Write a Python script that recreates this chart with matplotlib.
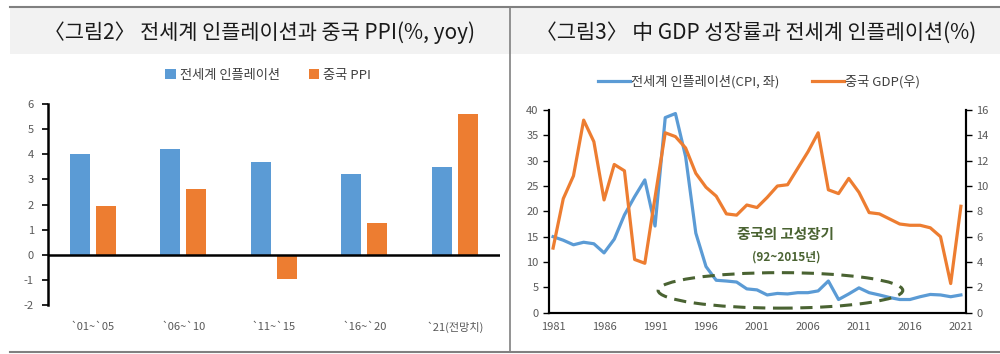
import numpy as np
import matplotlib
matplotlib.use('Agg')
import matplotlib.pyplot as plt
from matplotlib.patches import Rectangle, Ellipse
from matplotlib.lines import Line2D

plt.rcParams['font.family'] = ['Noto Sans CJK KR', 'DejaVu Sans']
plt.rcParams['axes.unicode_minus'] = False

# --- data: left chart (bars) ---
periods = ['`01~`05', '`06~`10', '`11~`15', '`16~`20', '`21(전망치)']
world_cpi_avg = [4.0, 4.2, 3.7, 3.2, 3.5]
china_ppi = [1.95, 2.6, -0.95, 1.25, 5.6]

# --- data: right chart (lines) ---
years = list(range(1981, 2022))
world_cpi = [15.0, 14.3, 13.4, 13.9, 13.6, 11.8, 14.5, 19.3, 22.9, 26.2,
             17.1, 38.5, 39.3, 30.8, 15.7, 9.1, 6.4, 6.25, 6.05, 4.7,
             4.5, 3.5, 3.8, 3.7, 3.95, 3.95, 4.3, 6.25, 2.6, 3.7,
             4.9, 3.95, 3.5, 3.0, 2.6, 2.6, 3.15, 3.6, 3.5, 3.15, 3.5]
china_gdp = [5.1, 9.0, 10.8, 15.2, 13.5, 8.9, 11.7, 11.2, 4.2, 3.9,
             9.1, 14.2, 13.9, 13.0, 11.0, 9.9, 9.2, 7.8, 7.7, 8.5,
             8.3, 9.1, 10.0, 10.1, 11.4, 12.7, 14.2, 9.7, 9.4, 10.6,
             9.5, 7.9, 7.8, 7.4, 7.0, 6.9, 6.9, 6.7, 6.0, 2.3, 8.4]
boom_start, boom_end = 1992, 2015

blue = '#5B9BD5'
orange = '#ED7D31'
green = '#4A6332'
tick_col = '#595959'

fig = plt.figure(figsize=(10, 3.54), dpi=100)

# frame decoration: title band, lines
fig.patches.append(Rectangle((0.01, 0.847), 0.99, 0.13, transform=fig.transFigure,
                             facecolor='#F2F2F2', edgecolor='none', zorder=0))
fig.add_artist(Line2D([0.01, 1.0], [0.979, 0.979], color='#808080', lw=1.5))
fig.add_artist(Line2D([0.01, 1.0], [0.006, 0.006], color='#808080', lw=1.5))
fig.add_artist(Line2D([0.51, 0.51], [0.006, 0.977], color='#808080', lw=1.2))

fig.text(0.259, 0.908, '〈그림2〉 전세계 인플레이션과 중국 PPI(%, yoy)',
         ha='center', va='center', fontsize=15, color='#1a1a1a')
fig.text(0.756, 0.908, '〈그림3〉 中 GDP 성장률과 전세계 인플레이션(%)',
         ha='center', va='center', fontsize=15, color='#1a1a1a')

# ---------------- left: bar chart ----------------
ax1 = fig.add_axes([0.0477, 0.1384, 0.4523, 0.5678])
x = np.arange(len(periods))
w = 0.22
b1 = ax1.bar(x - 0.144, world_cpi_avg, w, color=blue, label='전세계 인플레이션')
b2 = ax1.bar(x + 0.144, china_ppi, w, color=orange, label='중국 PPI')
ax1.set_xlim(-0.5, len(periods) - 0.5)
ax1.set_ylim(-2, 6)
ax1.set_yticks(range(-2, 7))
ax1.axhline(0, color='black', lw=1.8)
for s in ['top', 'right', 'bottom']:
    ax1.spines[s].set_visible(False)
ax1.spines['left'].set_linewidth(1.8)
ax1.tick_params(axis='y', direction='out', length=4, width=1.2, labelsize=8,
                labelcolor=tick_col, pad=6)
ax1.tick_params(axis='x', length=0, labelsize=8, labelcolor=tick_col)
ax1.set_xticks(x)
ax1.set_xticklabels(periods)
ax1.tick_params(axis='x', pad=12)
fig.legend(handles=[b1, b2], loc='center', bbox_to_anchor=(0.268, 0.788), ncol=2,
           frameon=False, fontsize=9.5, handlelength=0.8, handleheight=0.8,
           handletextpad=0.3, columnspacing=2.2, labelcolor='#404040')

# ---------------- right: line chart ----------------
ax2 = fig.add_axes([0.549, 0.1167, 0.417, 0.5726])
l1, = ax2.plot(years, world_cpi, color=blue, lw=2.3, label='전세계 인플레이션(CPI, 좌)')
ax2.set_ylim(0, 40)
ax2.set_yticks(range(0, 41, 5))
ax2.set_xlim(1980.6, 2021.5)
ax2.set_xticks(range(1981, 2022, 5))
ax3 = ax2.twinx()
l2, = ax3.plot(years, china_gdp, color=orange, lw=2.3, label='중국 GDP(우)')
ax3.set_ylim(0, 16)
ax3.set_yticks(range(0, 17, 2))
for a in (ax2, ax3):
    a.spines['top'].set_visible(False)
    for s in ['left', 'right', 'bottom']:
        a.spines[s].set_linewidth(1.5)
    a.tick_params(axis='y', direction='out', length=4, width=1.0, labelsize=8,
                  labelcolor=tick_col)
ax2.tick_params(axis='x', length=0, labelsize=8, labelcolor=tick_col, pad=7)

ell = Ellipse(((boom_start + boom_end) / 2 - 0.2, 4.4), boom_end - boom_start + 1.0, 7.0,
              fill=False, edgecolor=green, lw=2.2, linestyle=(0, (4, 2.5)), zorder=5)
ax2.add_patch(ell)
ax2.text(2003.8, 15.5, '중국의 고성장기', ha='center', va='center', fontsize=10.5,
         color=green, fontweight='bold')
ax2.text(2003.9, 11.0, '(92~2015년)', ha='center', va='center', fontsize=8.5,
         color=green, fontweight='bold')

fig.legend(handles=[l1, l2], loc='center', bbox_to_anchor=(0.759, 0.77), ncol=2,
           frameon=False, fontsize=9.5, handlelength=2.4, handletextpad=0.1,
           columnspacing=2.5, labelcolor='#404040')

fig.savefig('out.png', dpi=100)
